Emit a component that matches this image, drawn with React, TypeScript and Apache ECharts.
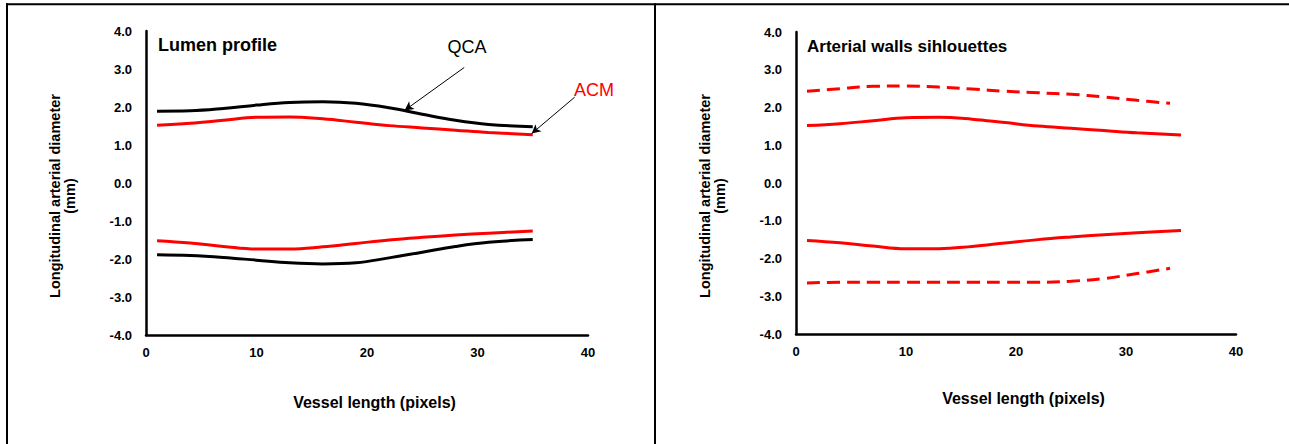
import React, { useEffect, useRef } from "react";
import * as echarts from "echarts";

// x positions (vessel length, pixels)
const xPos = [1, 4, 7, 10, 13, 16, 19, 22, 25, 28, 31, 35];
const xPosDashed = [1, 4, 7, 10, 13, 16, 19, 22, 25, 28, 31, 34];

// Lumen profile
const qcaUpper = [1.89, 1.9, 1.96, 2.05, 2.12, 2.14, 2.1, 1.98, 1.81, 1.65, 1.54, 1.48];
const qcaLower = [-1.89, -1.91, -1.96, -2.03, -2.1, -2.13, -2.1, -1.97, -1.82, -1.67, -1.56, -1.49];
const acmUpper = [1.52, 1.57, 1.65, 1.73, 1.74, 1.69, 1.6, 1.51, 1.45, 1.39, 1.33, 1.27];
const acmLower = [-1.52, -1.58, -1.67, -1.74, -1.74, -1.68, -1.59, -1.5, -1.43, -1.37, -1.32, -1.26];

// Arterial wall silhouettes (outer, dashed)
const wallUpper = [2.43, 2.5, 2.56, 2.57, 2.54, 2.49, 2.43, 2.39, 2.35, 2.28, 2.19, 2.11];
const wallLower = [-2.65, -2.63, -2.63, -2.63, -2.63, -2.63, -2.63, -2.63, -2.6, -2.53, -2.4, -2.26];

// axis ticks
const xMin = 0, xMax = 40, xStep = 10;
const yMin = -4, yMax = 4, yStep = 1;

// annotation arrows in data coords [from, to]
const qcaArrow = [[28.8, 3.04], [23.4, 1.91]];
const acmArrow = [[38.8, 2.26], [34.9, 1.3]];

const pair = (xs: number[], ys: number[]) => xs.map((x, i) => [x, ys[i]]);

const FONT = "'Liberation Sans', Arial, sans-serif";

export default function App() {
  const ref = useRef<HTMLDivElement>(null);
  useEffect(() => {
    document.body.style.margin = "0";
    const chart = echarts.init(ref.current!, null, { renderer: "svg" });

    const xAxisBase = (gi: number, gap: number) => ({
      type: "value",
      gridIndex: gi,
      min: xMin,
      max: xMax,
      interval: xStep,
      name: "Vessel length (pixels)",
      nameLocation: "middle",
      nameGap: gap,
      nameTextStyle: { fontFamily: FONT, fontWeight: "bold", fontSize: 16, color: "#000", padding: [0, 0, 0, 15] },
      axisLine: { show: true, onZero: false, lineStyle: { color: "#000", width: 2.5 } },
      axisTick: { show: false },
      splitLine: { show: false },
      axisLabel: { fontFamily: FONT, fontWeight: "bold", fontSize: 13, color: "#000", margin: 11 },
    });
    const yAxisBase = (gi: number) => ({
      type: "value",
      gridIndex: gi,
      min: yMin,
      max: yMax,
      interval: yStep,
      name: "Longitudinal arterial diameter\n(mm)",
      nameLocation: "middle",
      nameGap: 69,
      nameTextStyle: {
        fontFamily: FONT,
        fontWeight: "bold",
        fontSize: 14.5,
        color: "#000",
        lineHeight: 15,
        padding: [0, 26, 0, 0],
      },
      axisLine: { show: true, onZero: false, lineStyle: { color: "#000", width: 2.5 } },
      axisTick: { show: false },
      splitLine: { show: false },
      axisLabel: {
        fontFamily: FONT,
        fontWeight: "bold",
        fontSize: 13,
        color: "#000",
        margin: 14,
        formatter: (v: number) => v.toFixed(1),
      },
    });

    const lineSeries = (gi: number, data: number[][], color: string, dashed = false, extra: any = {}) => ({
      type: "line",
      xAxisIndex: gi,
      yAxisIndex: gi,
      data,
      smooth: 0.4,
      showSymbol: false,
      symbol: "none",
      silent: true,
      lineStyle: { color, width: 3, type: dashed ? [13, 7] : "solid" },
      ...extra,
    });

    const arrow = (a: number[][]) => ({
      silent: true,
      symbol: ["none", "arrow"],
      symbolSize: [7, 9],
      label: { show: false },
      lineStyle: { color: "#000", width: 1, type: "solid" },
      data: [[{ coord: a[0] }, { coord: a[1] }]],
    });

    chart.setOption({
      animation: false,
      backgroundColor: "#fff",
      grid: [
        { left: 146, top: 31, width: 442, height: 304 },
        { left: 796, top: 32, width: 440, height: 302 },
      ],
      xAxis: [xAxisBase(0, 59), xAxisBase(1, 56)],
      yAxis: [yAxisBase(0), yAxisBase(1)],
      series: [
        lineSeries(0, pair(xPos, qcaUpper), "#000", false, { markLine: arrow(qcaArrow) }),
        lineSeries(0, pair(xPos, qcaLower), "#000"),
        lineSeries(0, pair(xPos, acmUpper), "#ff0000", false, { markLine: arrow(acmArrow) }),
        lineSeries(0, pair(xPos, acmLower), "#ff0000"),
        lineSeries(1, pair(xPosDashed, wallUpper), "#ff0000", true),
        lineSeries(1, pair(xPos, acmUpper), "#ff0000"),
        lineSeries(1, pair(xPos, acmLower), "#ff0000"),
        lineSeries(1, pair(xPosDashed, wallLower), "#ff0000", true),
      ],
      graphic: [
        { type: "line", shape: { x1: 6, y1: 4.3, x2: 1289, y2: 4.3 }, style: { stroke: "#000", lineWidth: 2 } },
        { type: "line", shape: { x1: 7, y1: 3.3, x2: 7, y2: 444 }, style: { stroke: "#000", lineWidth: 2 } },
        { type: "line", shape: { x1: 655, y1: 3.3, x2: 655, y2: 444 }, style: { stroke: "#000", lineWidth: 2 } },
        {
          type: "text",
          x: 158,
          y: 45,
          style: { text: "Lumen profile", font: `bold 18px ${FONT}`, fill: "#000", textVerticalAlign: "middle" },
        },
        {
          type: "text",
          x: 807,
          y: 46,
          style: { text: "Arterial walls sihlouettes", font: `bold 17px ${FONT}`, fill: "#000", textVerticalAlign: "middle" },
        },
        {
          type: "text",
          x: 467,
          y: 47,
          style: { text: "QCA", font: `18px ${FONT}`, fill: "#000", textAlign: "center", textVerticalAlign: "middle" },
        },
        {
          type: "text",
          x: 594,
          y: 90,
          style: { text: "ACM", font: `18px ${FONT}`, fill: "#ff0000", textAlign: "center", textVerticalAlign: "middle" },
        },
      ],
    });
    return () => chart.dispose();
  }, []);
  return <div ref={ref} style={{ width: 1289, height: 444 }} />;
}
